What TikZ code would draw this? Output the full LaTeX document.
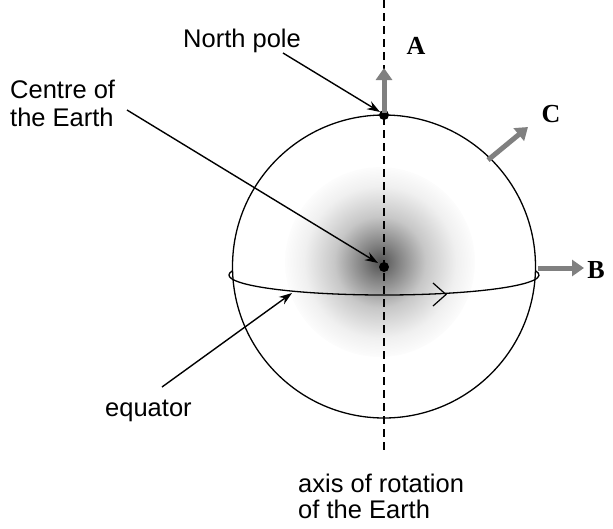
\documentclass[tikz,border=0pt]{standalone}
\usepackage{fontspec}
\setmainfont{Liberation Sans}
\newfontfamily\serifbf{Liberation Serif}
\usetikzlibrary{arrows.meta}
\pgfdeclareradialshading{glow}{\pgfpoint{0bp}{0bp}}{color(0bp)=(black!68); color(5bp)=(black!48); color(12bp)=(black!22); color(20bp)=(black!6); color(26bp)=(white); color(50bp)=(white)}
\begin{document}
\begin{tikzpicture}[x=1pt,y=-1pt,
  lbl/.style={font=\fontsize{25.5}{28}\selectfont, inner sep=0pt, align=left},
  letter/.style={font=\serifbf\bfseries\fontsize{26}{28}\selectfont, inner sep=0pt},
  pointer/.style={line width=1.4pt, -{Stealth[length=13pt,width=9pt]}},
  vec/.style={draw=black!50, line width=5pt, -{Triangle[length=12pt,width=16pt]}},
  outline/.style={line width=1.3pt}]
\useasboundingbox (0,0) rectangle (613,528);
% shading
\shade[shading=glow] (380,262) circle (95);
% sphere
\node[circle, minimum size=303pt, inner sep=0pt, draw, line width=1.3pt] (earth) at (384,266.5) {};
% equator
\draw[outline] (384,275) ++(168:155 and -20) arc[start angle=168, end angle=372, x radius=155, y radius=-20];
\coordinate (eqtip) at (446,294.5);
\draw[line width=1.2pt] (433,283) -- (eqtip) -- (433,306);
% axis
\coordinate (axtop) at (384,0);
\coordinate (axbot) at (384,450);
\draw[line width=1.3pt, dash pattern=on 8pt off 5pt] (axtop) -- (axbot);
% dots
\fill (384,115) circle (5) coordinate (np);
\fill (384,267) circle (5) coordinate (cen);
% vectors
\coordinate (Abase) at (384,113);
\coordinate (Atip) at (384,68);
\coordinate (Cbase) at (488,160);
\coordinate (Ctip) at (528,127);
\coordinate (Bbase) at (538,268);
\coordinate (Btip) at (584,268);
\draw[vec] (Abase) -- (Atip);
\draw[vec] (Cbase) -- (Ctip);
\draw[vec] (Bbase) -- (Btip);
\node[letter, anchor=base] (A) at (416,54) {A};
\node[letter, anchor=base] (C) at (551,122) {C};
\node[letter, anchor=base] (B) at (596,278) {B};
% labels
\node[lbl, anchor=base west] (npl) at (183,47) {North pole};
\node[lbl, anchor=north west] (cel) at (10,80) {Centre of\\the Earth};
\node[lbl, anchor=base west] (eql) at (105,416) {equator};
\node[lbl, anchor=north west, font=\fontsize{25.5}{26}\selectfont] (axl) at (298,474) {axis of rotation\\of the Earth};
% pointers
\coordinate (npS) at (283,53);
\coordinate (npE) at (380,112);
\coordinate (ceS) at (127,110);
\coordinate (ceE) at (378,263);
\coordinate (eqS) at (162,387);
\coordinate (eqE) at (292,293);
\draw[pointer] (npS) -- (npE);
\draw[pointer] (ceS) -- (ceE);
\draw[pointer] (eqS) -- (eqE);
\end{tikzpicture}
\end{document}
